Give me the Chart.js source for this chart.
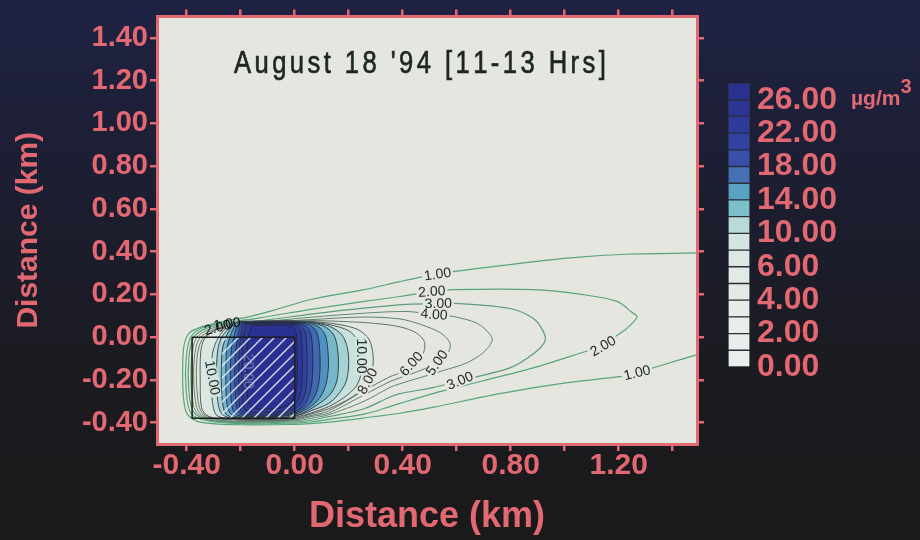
<!DOCTYPE html>
<html><head><meta charset="utf-8">
<script src="https://cdn.jsdelivr.net/npm/chart.js@4.4.1/dist/chart.umd.min.js"></script>
<style>
html,body{margin:0;padding:0;}
body{width:920px;height:540px;overflow:hidden;position:relative;
 background:linear-gradient(180deg,#1f2243 0%,#1c1e31 35%,#1b1b22 65%,#1a1a1a 100%);}
#main{position:absolute;left:0;top:0;}
#cbar{position:absolute;left:720px;top:60px;}
#unit{position:absolute;left:851px;top:88px;font:bold 21px "Liberation Sans",Arial,sans-serif;color:#e26872;white-space:nowrap;line-height:20px;}
#unit sup{font-size:20px;position:relative;top:-12px;vertical-align:baseline;}
</style></head>
<body>
<canvas id="main" width="920" height="540"></canvas>
<canvas id="cbar" width="200" height="330"></canvas>
<div id="unit">µg/m<sup>3</sup></div>
<script>
// ---------------- data ----------------
const titleText = "August 18 '94 [11-13 Hrs]";
const axisTitle = 'Distance (km)';

const xTickVals = [-0.4,-0.2,0,0.2,0.4,0.6,0.8,1.0,1.2,1.4];
const xLabelVals = [-0.4,0,0.4,0.8,1.2];
const yTickVals = [-0.4,-0.2,0,0.2,0.4,0.6,0.8,1.0,1.2,1.4];

// contour levels (ug/m3) and their traced outlines, in km
const levels = [1,2,3,4,5,6,8,10,12,14,16,18,20,22,24,26];

const c1 = [[1.60,0.40],[1.50,0.394],[1.25,0.389],[1.01,0.37],[0.82,0.343],[0.586,0.306],[0.527,0.296],[0.39,0.26],[0.257,0.222],[0.06,0.176],[-0.08,0.125],[-0.17,0.095],[-0.26,0.075],[-0.34,0.05],[-0.39,0.02],[-0.41,-0.04],[-0.415,-0.15],[-0.412,-0.28],[-0.398,-0.36],[-0.35,-0.398],[-0.2,-0.41],[0.0,-0.408],[0.06,-0.405],[0.126,-0.398],[0.257,-0.378],[0.39,-0.356],[0.51,-0.329],[0.76,-0.264],[1.01,-0.213],[1.205,-0.185],[1.268,-0.167],[1.327,-0.144],[1.476,-0.088],[1.60,-0.05]];
const c2 = [[-0.25,0.07],[-0.14,0.088],[0.06,0.13],[0.257,0.167],[0.39,0.19],[0.508,0.213],[0.586,0.222],[0.883,0.222],[1.068,0.199],[1.194,0.167],[1.25,0.115],[1.268,0.095],[1.231,0.042],[1.179,-0.005],[1.142,-0.042],[1.083,-0.065],[0.883,-0.144],[0.698,-0.204],[0.512,-0.264],[0.39,-0.31],[0.353,-0.325],[0.257,-0.36],[0.126,-0.385],[0.06,-0.397],[0.0,-0.402],[-0.2,-0.405],[-0.33,-0.39],[-0.385,-0.355],[-0.402,-0.25],[-0.402,-0.1],[-0.385,0.0],[-0.34,0.045],[-0.25,0.07]];
const c3 = [[-0.24,0.068],[-0.14,0.075],[0.06,0.108],[0.257,0.136],[0.416,0.153],[0.536,0.157],[0.612,0.157],[0.797,0.134],[0.883,0.088],[0.92,0.028],[0.927,-0.019],[0.883,-0.079],[0.797,-0.144],[0.612,-0.204],[0.512,-0.236],[0.39,-0.264],[0.353,-0.28],[0.257,-0.335],[0.126,-0.372],[0.06,-0.389],[0.0,-0.397],[-0.2,-0.4],[-0.32,-0.387],[-0.375,-0.35],[-0.392,-0.25],[-0.392,-0.1],[-0.375,-0.003],[-0.33,0.04],[-0.24,0.068]];
const c4 = [[-0.23,0.066],[-0.14,0.07],[0.06,0.093],[0.257,0.112],[0.416,0.12],[0.512,0.106],[0.586,0.097],[0.675,0.065],[0.723,0.014],[0.731,-0.019],[0.697,-0.074],[0.638,-0.12],[0.549,-0.157],[0.453,-0.194],[0.39,-0.218],[0.353,-0.235],[0.257,-0.3],[0.126,-0.363],[0.06,-0.38],[0.0,-0.392],[-0.2,-0.397],[-0.31,-0.385],[-0.365,-0.35],[-0.382,-0.25],[-0.382,-0.1],[-0.365,-0.005],[-0.32,0.035],[-0.23,0.066]];
const c5 = [[-0.22,0.066],[-0.14,0.068],[0.06,0.082],[0.257,0.094],[0.39,0.085],[0.47,0.058],[0.54,0.02],[0.572,-0.02],[0.575,-0.055],[0.553,-0.095],[0.527,-0.12],[0.464,-0.157],[0.39,-0.19],[0.353,-0.208],[0.257,-0.27],[0.126,-0.355],[0.06,-0.372],[0.0,-0.388],[-0.2,-0.394],[-0.3,-0.383],[-0.355,-0.35],[-0.372,-0.25],[-0.372,-0.1],[-0.355,-0.01],[-0.31,0.03],[-0.22,0.066]];
const c6 = [[-0.21,0.067],[-0.1,0.07],[0.06,0.077],[0.2,0.072],[0.3,0.064],[0.39,0.048],[0.45,0.02],[0.48,-0.02],[0.478,-0.07],[0.455,-0.105],[0.432,-0.125],[0.39,-0.167],[0.353,-0.185],[0.257,-0.25],[0.126,-0.345],[0.06,-0.367],[0.0,-0.384],[-0.1,-0.391],[-0.29,-0.38],[-0.345,-0.35],[-0.362,-0.25],[-0.362,-0.1],[-0.345,-0.015],[-0.3,0.03],[-0.21,0.067]];
const c8 = [[-0.2,0.072],[-0.05,0.075],[0.06,0.073],[0.16,0.06],[0.235,0.035],[0.275,-0.01],[0.29,-0.08],[0.288,-0.15],[0.272,-0.204],[0.257,-0.235],[0.2,-0.29],[0.126,-0.335],[0.06,-0.36],[0.0,-0.38],[-0.08,-0.388],[-0.25,-0.385],[-0.32,-0.37],[-0.345,-0.33],[-0.35,-0.2],[-0.348,-0.07],[-0.335,-0.01],[-0.29,0.035],[-0.2,0.072]];
const c10 = [[-0.2,0.074],[-0.05,0.076],[0.05,0.072],[0.13,0.058],[0.2,0.03],[0.236,-0.02],[0.25,-0.088],[0.248,-0.16],[0.228,-0.23],[0.18,-0.285],[0.126,-0.325],[0.06,-0.355],[0.0,-0.375],[-0.08,-0.385],[-0.24,-0.383],[-0.29,-0.365],[-0.305,-0.3],[-0.31,-0.19],[-0.305,-0.08],[-0.29,-0.02],[-0.26,0.035],[-0.2,0.074]];
const c12 = [[-0.21,0.073],[-0.05,0.075],[0.06,0.07],[0.13,0.05],[0.175,0.01],[0.195,-0.05],[0.2,-0.13],[0.19,-0.21],[0.16,-0.27],[0.126,-0.31],[0.06,-0.345],[0.0,-0.37],[-0.08,-0.382],[-0.23,-0.38],[-0.27,-0.36],[-0.285,-0.3],[-0.29,-0.18],[-0.285,-0.06],[-0.27,0.0],[-0.24,0.045],[-0.21,0.073]];
const c14 = [[-0.21,0.072],[-0.05,0.074],[0.05,0.069],[0.11,0.05],[0.145,0.01],[0.158,-0.05],[0.162,-0.13],[0.155,-0.21],[0.13,-0.27],[0.08,-0.32],[0.03,-0.355],[-0.02,-0.372],[-0.08,-0.38],[-0.22,-0.378],[-0.255,-0.36],[-0.268,-0.3],[-0.272,-0.18],[-0.268,-0.06],[-0.255,0.0],[-0.235,0.045],[-0.21,0.072]];
const c16 = [[-0.205,0.071],[-0.05,0.073],[0.04,0.068],[0.09,0.047],[0.113,0.01],[0.122,-0.05],[0.125,-0.13],[0.118,-0.21],[0.1,-0.27],[0.065,-0.32],[0.02,-0.352],[-0.03,-0.368],[-0.08,-0.376],[-0.21,-0.374],[-0.24,-0.355],[-0.252,-0.3],[-0.255,-0.18],[-0.252,-0.06],[-0.24,0.0],[-0.225,0.045],[-0.205,0.071]];
const c18 = [[-0.2,0.069],[-0.05,0.071],[0.03,0.066],[0.07,0.044],[0.085,0.01],[0.092,-0.05],[0.094,-0.13],[0.09,-0.21],[0.077,-0.27],[0.05,-0.32],[0.01,-0.35],[-0.03,-0.364],[-0.08,-0.372],[-0.2,-0.37],[-0.225,-0.35],[-0.235,-0.3],[-0.238,-0.18],[-0.235,-0.06],[-0.225,0.0],[-0.215,0.045],[-0.2,0.069]];
const c20 = [[-0.195,0.067],[-0.05,0.069],[0.02,0.064],[0.05,0.04],[0.062,0.0],[0.066,-0.06],[0.067,-0.13],[0.064,-0.21],[0.054,-0.27],[0.035,-0.32],[0.0,-0.347],[-0.04,-0.36],[-0.08,-0.368],[-0.19,-0.366],[-0.21,-0.345],[-0.218,-0.3],[-0.222,-0.18],[-0.218,-0.06],[-0.21,0.0],[-0.205,0.04],[-0.195,0.067]];
const c22 = [[-0.19,0.064],[-0.05,0.066],[0.015,0.06],[0.035,0.035],[0.042,0.0],[0.045,-0.06],[0.046,-0.13],[0.044,-0.21],[0.037,-0.27],[0.02,-0.315],[-0.01,-0.34],[-0.04,-0.355],[-0.08,-0.362],[-0.18,-0.36],[-0.2,-0.34],[-0.206,-0.3],[-0.208,-0.18],[-0.205,-0.06],[-0.2,0.0],[-0.196,0.035],[-0.19,0.064]];
const c24 = [[-0.18,0.06],[-0.05,0.062],[0.005,0.056],[0.02,0.03],[0.025,0.0],[0.027,-0.06],[0.028,-0.13],[0.026,-0.21],[0.02,-0.27],[0.005,-0.31],[-0.02,-0.335],[-0.05,-0.348],[-0.08,-0.352],[-0.17,-0.35],[-0.188,-0.33],[-0.194,-0.3],[-0.196,-0.18],[-0.194,-0.06],[-0.19,0.0],[-0.186,0.03],[-0.18,0.06]];
const c26 = [[-0.16,0.054],[-0.06,0.056],[-0.01,0.048],[0.005,0.02],[0.008,-0.04],[0.01,-0.13],[0.008,-0.22],[0.0,-0.28],[-0.02,-0.315],[-0.05,-0.33],[-0.08,-0.335],[-0.15,-0.333],[-0.17,-0.31],[-0.176,-0.25],[-0.178,-0.15],[-0.176,-0.05],[-0.17,0.01],[-0.16,0.054]];
const contourPaths = [c1,c2,c3,c4,c5,c6,c8,c10,c12,c14,c16,c18,c20,c22,c24,c26];

// source area (box) and hatched part, km
const sourceBox = [[-0.38,0],[0,0],[0,-0.38],[-0.38,-0.38],[-0.38,0]];
const hatchBox  = [[-0.27,0],[0,0],[0,-0.38],[-0.27,-0.38],[-0.27,0]];

// contour labels: text, x(km), y(km), angle(deg)
const contourLabels = [
  ['1.00', 0.529, 0.294, -8],
  ['2.00', 0.508, 0.213, -4],
  ['3.00', 0.532, 0.157, -1],
  ['4.00', 0.516, 0.106, 4],
  ['2.00', 1.142, -0.042, -30],
  ['1.00', 1.268, -0.167, -14],
  ['3.00', 0.612, -0.204, -22],
  ['5.00', 0.527, -0.12, -55],
  ['6.00', 0.432, -0.125, -48],
  ['8.00', 0.270, -0.206, -62],
  ['10.00', 0.246, -0.088, 90],
  ['10.00', -0.305, -0.19, 80],
  ['2.00', -0.285, 0.045, -15],
  ['1.00', -0.25, 0.062, -8]
];
const innerLabels = [['20.00', -0.172, -0.16, 90]];

// colour bar
const cbLevels = [0,1,2,3,4,5,6,8,10,12,14,16,18,20,22,24,26,28];
const cbLabeled = [0,2,4,6,10,14,18,22,26];
const cbColors = ['#e9efec','#e8eeeb','#e7ede9','#e6ece8','#e4ebe7','#e2eae6','#dde8e4','#d3e5e1','#b9dbd8','#7cc0cb','#5aa2c4','#4470b4','#3850a8','#3242a0','#2f3b9a','#2c3594','#2a3190'];

// ---------------- styles ----------------
const PINK = '#e26872';
const FONT = '"Liberation Sans", Arial, Helvetica, sans-serif';
const PLOT_BG = '#e4e6df';
const fillColors = [null,null,null,null,null,null,'#dbe7e2','#c9e1dd','#a5d2d3','#74b8c9','#4f92c2','#3f69b3','#3650a8','#3142a0','#2d389a','#2b3190'];
const lineColors = ['#55a67b','#55a67b','#5b9c7a','#5c8a72','#5e806f','#5f786b','#56625d','#4d5753','#3d4650','#363f4e','#30384a','#2a3146','#272d44','#252b42','#242a40','#23283e'];
const labelBg = [PLOT_BG,PLOT_BG,PLOT_BG,PLOT_BG,PLOT_BG,PLOT_BG,PLOT_BG,PLOT_BG,PLOT_BG,PLOT_BG,'#d3e5e1','#d3e5e1',null,null];

function makeHatch(){
  const s = 12, c = document.createElement('canvas'); c.width = s; c.height = s;
  const g = c.getContext('2d');
  g.strokeStyle = 'rgba(236,238,248,0.85)'; g.lineWidth = 1.5;
  g.beginPath();
  g.moveTo(-2, s+2); g.lineTo(s+2, -2);
  g.moveTo(-2, 2); g.lineTo(2, -2);
  g.moveTo(s-2, s+2); g.lineTo(s+2, s-2);
  g.stroke();
  return g.createPattern(c, 'repeat');
}

const toPts = p => p.map(([x,y]) => ({x, y}));
const datasets = [];
contourPaths.forEach((p, i) => {
  datasets.push({
    label: levels[i].toFixed(2),
    data: toPts(p),
    borderColor: lineColors[i],
    borderWidth: i < 3 ? 1.2 : 1,
    backgroundColor: fillColors[i] || 'transparent',
    fill: fillColors[i] ? 'shape' : false,
    pointRadius: 0, tension: 0.3
  });
});
datasets.push({label:'hatch', data: toPts(hatchBox), borderWidth: 0, borderColor:'transparent',
  backgroundColor: makeHatch(), fill: 'shape', pointRadius: 0, tension: 0});
datasets.push({label:'source', data: toPts(sourceBox), borderWidth: 1.5, borderColor:'#1b1d1c',
  fill: false, pointRadius: 0, tension: 0});
datasets.forEach((d, i) => { d.order = datasets.length - i; });

const plotBg = {
  id: 'plotBg',
  beforeDraw(chart){
    const {ctx, chartArea: a} = chart;
    ctx.save(); ctx.fillStyle = PLOT_BG;
    ctx.fillRect(a.left, a.top, a.right - a.left, a.bottom - a.top);
    ctx.restore();
  }
};

const annot = {
  id: 'annot',
  afterDatasetsDraw(chart){
    const {ctx, chartArea: a, scales: {x, y}} = chart;
    ctx.save();
    ctx.beginPath(); ctx.rect(a.left, a.top, a.right - a.left, a.bottom - a.top); ctx.clip();
    ctx.font = '14px ' + FONT;
    ctx.textAlign = 'center'; ctx.textBaseline = 'middle';
    contourLabels.forEach(([t, lx, ly, ang], i) => {
      const px = x.getPixelForValue(lx), py = y.getPixelForValue(ly);
      ctx.save(); ctx.translate(px, py); ctx.rotate(ang * Math.PI / 180);
      const w = ctx.measureText(t).width;
      if (labelBg[i]) { ctx.fillStyle = labelBg[i]; ctx.fillRect(-w/2 - 2, -6, w + 4, 12); }
      ctx.fillStyle = labelBg[i] ? '#242c28' : '#111';
      ctx.fillText(t, 0, 0.5);
      ctx.restore();
    });
    innerLabels.forEach(([t, lx, ly, ang]) => {
      const px = x.getPixelForValue(lx), py = y.getPixelForValue(ly);
      ctx.save(); ctx.translate(px, py); ctx.rotate(ang * Math.PI / 180);
      ctx.fillStyle = 'rgba(170,175,210,0.55)';
      ctx.fillText(t, 0, 0.5);
      ctx.restore();
    });
    // title inside the plot
    ctx.font = '32px ' + FONT;
    ctx.fillStyle = '#1c2722';
    ctx.strokeStyle = '#1c2722'; ctx.lineWidth = 0.7;
    ctx.textAlign = 'left'; ctx.textBaseline = 'alphabetic';
    const sx = 0.8, target = 370;
    const natural = ctx.measureText(titleText).width;
    const ls = (target / sx - natural) / (titleText.length - 1);
    ctx.translate(234, 73); ctx.scale(sx, 1);
    let cx = 0;
    for (const ch of titleText) { ctx.fillText(ch, cx, 0); ctx.strokeText(ch, cx, 0); cx += ctx.measureText(ch).width + ls; }
    ctx.restore();
  }
};

const tickFont = {family: FONT, size: 30, weight: 'bold', lineHeight: 1};
const grid = {display: true, drawOnChartArea: false, drawTicks: true, tickLength: 7, tickWidth: 2.5, tickColor: PINK, color: PINK, lineWidth: 2.5};
const border = {display: true, color: PINK, width: 3, z: 1};

new Chart(document.getElementById('main'), {
  type: 'line',
  data: {datasets},
  plugins: [plotBg, annot],
  options: {
    responsive: false, animation: false, events: [],
    layout: {padding: {left: 0, top: 0, right: 213, bottom: 0}},
    plugins: {legend: {display: false}, tooltip: {enabled: false}, title: {display: false}},
    scales: {
      x: {type: 'linear', position: 'bottom', min: -0.51, max: 1.49,
        afterBuildTicks: s => { s.ticks = xTickVals.map(v => ({value: v})); },
        afterFit: s => { s.height = 96; },
        ticks: {autoSkip: false, maxRotation: 0, padding: 0, color: PINK, font: tickFont,
          callback: v => xLabelVals.includes(v) ? v.toFixed(2) : ''},
        grid, border,
        title: {display: true, text: axisTitle, color: PINK,
          font: {family: FONT, size: 36, weight: 'bold', lineHeight: 1}, padding: {top: 0, bottom: 5}}},
      x2: {type: 'linear', axis: 'x', position: 'top', min: -0.51, max: 1.49,
        afterBuildTicks: s => { s.ticks = xTickVals.map(v => ({value: v})); },
        afterFit: s => { s.height = 12; },
        ticks: {display: false}, grid, border},
      y: {type: 'linear', position: 'left', min: -0.5, max: 1.5,
        afterBuildTicks: s => { s.ticks = yTickVals.map(v => ({value: v})); },
        afterFit: s => { s.width = 157; },
        ticks: {autoSkip: false, padding: 2, color: PINK, font: {family: FONT, size: 29, weight: 'bold', lineHeight: 1},
          callback: v => v.toFixed(2)},
        grid, border,
        title: {display: true, text: axisTitle, color: PINK,
          font: {family: FONT, size: 30, weight: 'bold', lineHeight: 1}, padding: {top: 14, bottom: 0}}},
      y2: {type: 'linear', axis: 'y', position: 'right', min: -0.5, max: 1.5,
        afterBuildTicks: s => { s.ticks = yTickVals.map(v => ({value: v})); },
        afterFit: s => { s.width = 10; },
        ticks: {display: false}, grid, border}
    }
  }
});

// colour bar
const cbTickIdx = cbLabeled.map(v => cbLevels.indexOf(v));
new Chart(document.getElementById('cbar'), {
  type: 'bar',
  data: {labels: ['c'], datasets: cbColors.map((c, i) => ({
    label: cbLevels[i] + '-' + cbLevels[i+1],
    data: [[i, i + 1]], backgroundColor: c, borderColor: 'rgba(45,50,58,0.85)', borderWidth: 1,
    borderSkipped: false, grouped: false, barPercentage: 1, categoryPercentage: 1}))},
  options: {
    responsive: false, animation: false, events: [],
    layout: {padding: {left: 8, top: 23, bottom: 22, right: 0}},
    plugins: {legend: {display: false}, tooltip: {enabled: false}},
    scales: {
      x: {display: false},
      y: {position: 'right', min: 0, max: 17,
        afterBuildTicks: s => { s.ticks = cbTickIdx.map(v => ({value: v})); },
        afterFit: s => { s.width = 170; },
        grid: {display: false, drawTicks: false}, border: {display: false},
        ticks: {autoSkip: false, padding: 7, color: PINK,
          font: {family: FONT, size: 32, weight: 'bold', lineHeight: 1},
          callback: v => cbLevels[v].toFixed(2)}}
    }
  }
});
</script>
</body></html>
